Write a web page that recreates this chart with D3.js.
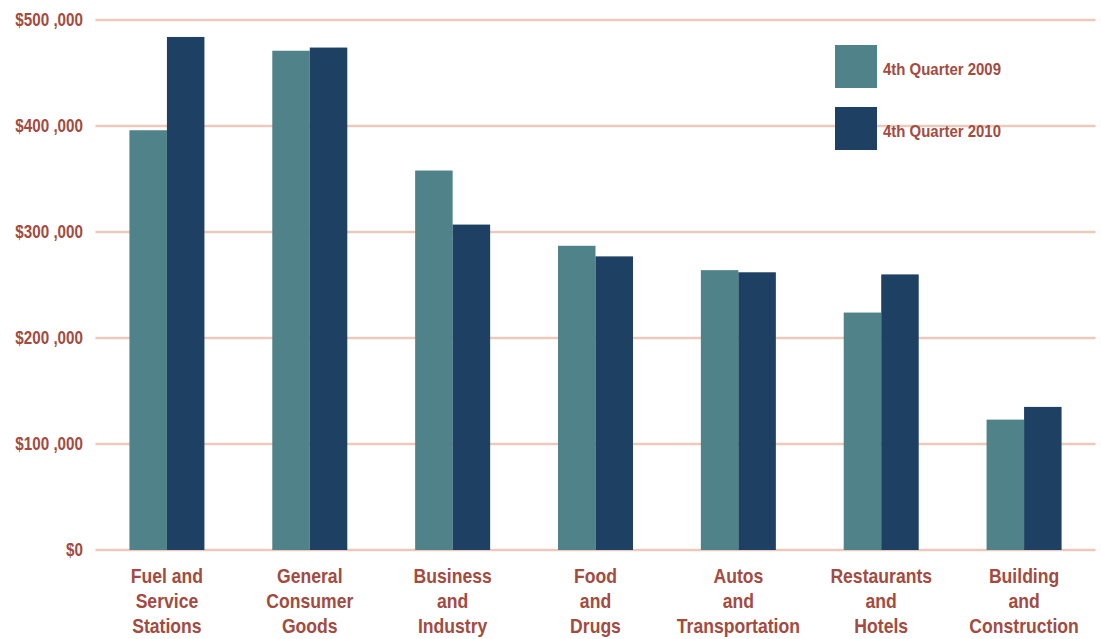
<!DOCTYPE html>
<html><head><meta charset="utf-8">
<script src="https://cdn.jsdelivr.net/npm/d3@7"></script>
<style>
body{margin:0;background:#fff;}
text{font-family:"Liberation Sans",Arial,sans-serif;font-weight:bold;fill:#a34b40;}
</style></head>
<body><svg id="c" width="1101" height="639"></svg>
<script>
const categories = [["Fuel and","Service","Stations"],["General","Consumer","Goods"],["Business","and","Industry"],["Food","and","Drugs"],["Autos","and","Transportation"],["Restaurants","and","Hotels"],["Building","and","Construction"]];
const seriesNames = ["4th Quarter 2009","4th Quarter 2010"];
const q2009 = [396000,471000,358000,287000,264000,224000,123000];
const q2010 = [484000,474000,307000,277000,262000,260000,135000];
const yTicks = [0,100000,200000,300000,400000,500000];
const yTickLabels = ["$0","$100 ,000","$200 ,000","$300 ,000","$400 ,000","$500 ,000"];
const colors = ["#508389","#1e4163"];

(function(){
const svg = d3.select("#c");
const mLeft = 95.5, mRight = 1095.5, mTop = 20, mBottom = 550;
const keys = categories.map((d,i)=>i);
const x = d3.scaleBand().domain(keys).range([mLeft,mRight]).paddingInner(0.475).paddingOuter(0.2375);
const xs = d3.scaleBand().domain([0,1]).range([0,x.bandwidth()]);
const y = d3.scaleLinear().domain([0,500000]).range([mBottom,mTop]);

svg.append("g").selectAll("line").data(yTicks).join("line")
  .attr("x1",mLeft).attr("x2",mRight)
  .attr("y1",d=>y(d)).attr("y2",d=>y(d))
  .attr("stroke","#ecc9bb").attr("stroke-width",2.5);

// y labels (condensed)
svg.append("g").selectAll("text").data(yTicks).join("text")
  .attr("transform",d=>`translate(83,${y(d)+6}) scale(0.87,1)`)
  .attr("text-anchor","end").style("font-size","17.5px")
  .text((d,i)=>yTickLabels[i]);

const series = [q2009,q2010];
series.forEach((vals,s)=>{
  svg.append("g").selectAll("rect").data(vals).join("rect")
    .attr("x",(d,i)=>x(i)+xs(s))
    .attr("width",xs.bandwidth())
    .attr("y",d=>y(d))
    .attr("height",d=>y(0)-y(d))
    .attr("fill",colors[s]);
});

const xl = svg.append("g").selectAll("text").data(categories).join("text")
  .attr("text-anchor","middle")
  .style("font-size","20px")
  .attr("transform",(d,i)=>`translate(${x(i)+x.bandwidth()/2},583) scale(0.88,1)`);
xl.selectAll("tspan").data(d=>d).join("tspan")
  .attr("x",0).attr("dy",(d,j)=>j===0?0:25).text(d=>d);

const lg = svg.append("g");
seriesNames.forEach((n,i)=>{
  lg.append("rect").attr("x",835).attr("y",45+i*62).attr("width",42).attr("height",43).attr("fill",colors[i]);
  lg.append("text").attr("transform",`translate(883,${75+i*62}) scale(0.88,1)`).style("font-size","17px").text(n);
});
})();
</script></body></html>
